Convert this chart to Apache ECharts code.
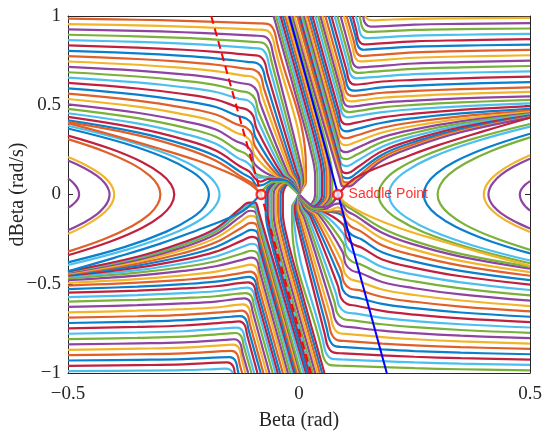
<!DOCTYPE html>
<html><head><meta charset="utf-8">
<script src="https://cdn.jsdelivr.net/npm/echarts@6/dist/echarts.min.js"></script>
<style>html,body{margin:0;padding:0;background:#fff}#c{width:550px;height:436px}</style>
</head><body><div id="c"></div>
<script>
const palette = ['#0a7fcb','#e0602a','#f0b52a','#8e44a0','#7ab13a','#4dbfef','#c0213f'];
const leftLoopColors = ['#8e44a0','#f0b52a','#8e44a0','#e0602a','#c0213f','#0a7fcb','#4dbfef'];
const rightLoopColors = ['#8e44a0','#f0b52a','#8e44a0','#7ab13a','#0a7fcb','#4dbfef','#7ab13a'];
const xTicks = [-0.5, 0, 0.5];
const yTicks = [-1, -0.5, 0, 0.5, 1];

// upper-left trajectories (from left edge, bending down into the central band)
const upperLeft = [
[-.5,.985,-.35,.979,-.25,.973,-.18,.967,-.088,.959,-.068,.956,-.055,.925,-.048,.855,.015,.15,.015,.07,.007,.03,.001,.004],
[-.5,.955,-.35,.948,-.25,.941,-.18,.934,-.092,.924,-.072,.921,-.059,.89,-.052,.82,.011,.147,.012,.071,.006,.031,.001,.004],
[-.5,.925,-.35,.917,-.25,.909,-.18,.901,-.096,.89,-.076,.886,-.063,.855,-.056,.785,.006,.143,.009,.071,.004,.032,.001,.004],
[-.5,.895,-.35,.886,-.25,.877,-.18,.868,-.1,.855,-.08,.851,-.067,.82,-.06,.75,.002,.14,.006,.072,.003,.034,.001,.004],
[-.5,.865,-.35,.855,-.25,.845,-.18,.835,-.104,.821,-.084,.817,-.071,.785,-.064,.715,-.002,.137,.004,.073,.002,.035,.001,.004],
[-.5,.835,-.35,.823,-.25,.811,-.18,.799,-.108,.782,-.088,.777,-.075,.745,-.068,.675,-.006,.133,.001,.074,.001,.036,.001,.004],
[-.5,.805,-.35,.791,-.25,.777,-.18,.763,-.112,.743,-.092,.737,-.079,.705,-.072,.635,-.011,.13,-.002,.074,-.001,.037,.001,.004],
[-.5,.775,-.35,.759,-.25,.743,-.18,.727,-.116,.705,-.096,.697,-.083,.665,-.076,.595,-.015,.127,-.005,.075,-.002,.038,.001,.004],
[-.5,.745,-.35,.727,-.25,.709,-.18,.691,-.12,.666,-.1,.658,-.087,.625,-.08,.555,-.019,.123,-.008,.076,-.003,.04,.001,.004],
[-.5,.715,-.35,.694,-.25,.673,-.18,.652,-.124,.623,-.104,.613,-.091,.58,-.084,.51,-.024,.12,-.011,.076,-.005,.041,.001,.004],
[-.5,.685,-.35,.661,-.25,.637,-.18,.613,-.128,.579,-.108,.569,-.095,.535,-.088,.465,-.028,.117,-.014,.077,-.006,.042,.001,.004],
[-.5,.655,-.35,.628,-.25,.601,-.18,.574,-.13,.536,-.11,.526,-.097,.49,-.09,.42,-.032,.113,-.016,.078,-.007,.043,.001,.004],
[-.5,.625,-.35,.594,-.25,.563,-.18,.532,-.132,.489,-.112,.475,-.099,.44,-.092,.37,-.036,.11,-.019,.079,-.008,.044,.001,.004],
[-.5,.595,-.35,.56,-.25,.525,-.18,.49,-.134,.441,-.114,.425,-.101,.39,-.094,.32,-.041,.107,-.022,.079,-.01,.046,.001,.004],
[-.5,.565,-.35,.526,-.25,.487,-.18,.448,-.135,.393,-.115,.376,-.102,.34,-.095,.27,-.045,.103,-.025,.08,-.011,.047,.001,.004],
[-.5,.535,-.35,.492,-.25,.449,-.18,.406,-.136,.346,-.116,.327,-.103,.29,-.096,.22,-.049,.1,-.028,.081,-.012,.048,.001,.004],
[-.5,.505,-.35,.458,-.25,.411,-.18,.364,-.136,.298,-.116,.277,-.103,.24,-.096,.17,-.054,.097,-.031,.081,-.014,.049,.001,.004],
[-.5,.48,-.35,.428,-.25,.376,-.18,.324,-.135,.251,-.115,.228,-.102,.19,-.095,.12,-.058,.093,-.034,.082,-.015,.05,.001,.004],
[-.5,.455,-.35,.398,-.25,.341,-.18,.284,-.132,.204,-.112,.179,-.099,.14,-.088,.095,-.062,.095,-.036,.083,-.016,.051,.001,.004],
[-.5,.435,-.35,.372,-.25,.309,-.18,.246,-.128,.158,-.108,.13,-.095,.09,-.084,.072,-.065,.088,-.039,.084,-.017,.053,.001,.004],
[-.5,.415,-.35,.348,-.25,.281,-.18,.214,-.123,.12,-.103,.09,-.09,.05,-.077,.055,-.06,.078,-.042,.084,-.019,.054,.001,.004],
[-.5,.405,-.35,.333,-.25,.261,-.18,.189,-.118,.088,-.098,.056,-.086,.018,-.075,.032,-.06,.06,-.045,.073,-.022,.053,.001,.004]
];

// lower-right trajectories (from right edge, bending up into the central band)
const lowerRight = [
[.5,-.985,.35,-.979,.25,-.973,.18,-.967,.088,-.959,.068,-.956,.055,-.925,.048,-.855,-.015,-.15,-.015,-.07,-.007,-.03,-.001,-.004],
[.5,-.955,.35,-.948,.25,-.941,.18,-.934,.092,-.924,.072,-.921,.059,-.89,.052,-.82,-.011,-.147,-.012,-.071,-.006,-.031,-.001,-.004],
[.5,-.925,.35,-.917,.25,-.909,.18,-.901,.096,-.89,.076,-.886,.063,-.855,.056,-.785,-.006,-.143,-.009,-.071,-.004,-.032,-.001,-.004],
[.5,-.895,.35,-.886,.25,-.877,.18,-.868,.1,-.855,.08,-.851,.067,-.82,.06,-.75,-.002,-.14,-.006,-.072,-.003,-.034,-.001,-.004],
[.5,-.865,.35,-.855,.25,-.845,.18,-.835,.104,-.821,.084,-.817,.071,-.785,.064,-.715,.002,-.137,-.004,-.073,-.002,-.035,-.001,-.004],
[.5,-.835,.35,-.823,.25,-.811,.18,-.799,.108,-.782,.088,-.777,.075,-.745,.068,-.675,.006,-.133,-.001,-.074,-.001,-.036,-.001,-.004],
[.5,-.805,.35,-.791,.25,-.777,.18,-.763,.112,-.743,.092,-.737,.079,-.705,.072,-.635,.011,-.13,.002,-.074,.001,-.037,-.001,-.004],
[.5,-.775,.35,-.759,.25,-.743,.18,-.727,.116,-.705,.096,-.697,.083,-.665,.076,-.595,.015,-.127,.005,-.075,.002,-.038,-.001,-.004],
[.5,-.745,.35,-.727,.25,-.709,.18,-.691,.12,-.666,.1,-.658,.087,-.625,.08,-.555,.019,-.123,.008,-.076,.003,-.04,-.001,-.004],
[.5,-.715,.35,-.694,.25,-.673,.18,-.652,.124,-.623,.104,-.613,.091,-.58,.084,-.51,.024,-.12,.011,-.076,.005,-.041,-.001,-.004],
[.5,-.685,.35,-.661,.25,-.637,.18,-.613,.128,-.579,.108,-.569,.095,-.535,.088,-.465,.028,-.117,.014,-.077,.006,-.042,-.001,-.004],
[.5,-.655,.35,-.628,.25,-.601,.18,-.574,.13,-.536,.11,-.526,.097,-.49,.09,-.42,.032,-.113,.016,-.078,.007,-.043,-.001,-.004],
[.5,-.625,.35,-.594,.25,-.563,.18,-.532,.132,-.489,.112,-.475,.099,-.44,.092,-.37,.036,-.11,.019,-.079,.008,-.044,-.001,-.004],
[.5,-.595,.35,-.56,.25,-.525,.18,-.49,.134,-.441,.114,-.425,.101,-.39,.094,-.32,.041,-.107,.022,-.079,.01,-.046,-.001,-.004],
[.5,-.565,.35,-.526,.25,-.487,.18,-.448,.135,-.393,.115,-.376,.102,-.34,.095,-.27,.045,-.103,.025,-.08,.011,-.047,-.001,-.004],
[.5,-.535,.35,-.492,.25,-.449,.18,-.406,.136,-.346,.116,-.327,.103,-.29,.096,-.22,.049,-.1,.028,-.081,.012,-.048,-.001,-.004],
[.5,-.505,.35,-.458,.25,-.411,.18,-.364,.136,-.298,.116,-.277,.103,-.24,.096,-.17,.054,-.097,.031,-.081,.014,-.049,-.001,-.004],
[.5,-.48,.35,-.428,.25,-.376,.18,-.324,.135,-.251,.115,-.228,.102,-.19,.095,-.12,.058,-.093,.034,-.082,.015,-.05,-.001,-.004],
[.5,-.455,.35,-.398,.25,-.341,.18,-.284,.132,-.204,.112,-.179,.099,-.14,.088,-.095,.062,-.095,.036,-.083,.016,-.051,-.001,-.004],
[.5,-.435,.35,-.372,.25,-.309,.18,-.246,.128,-.158,.108,-.13,.095,-.09,.084,-.072,.065,-.088,.039,-.084,.017,-.053,-.001,-.004],
[.5,-.415,.35,-.348,.25,-.281,.18,-.214,.123,-.12,.103,-.09,.09,-.05,.077,-.055,.06,-.078,.042,-.084,.019,-.054,-.001,-.004],
[.5,-.405,.35,-.333,.25,-.261,.18,-.189,.118,-.088,.098,-.056,.086,-.018,.075,-.032,.06,-.06,.045,-.073,.022,-.053,-.001,-.004]
];

// band entering from the top edge toward the origin
const topBand = [
[-.055,1,-.001,.5,.025,.25,.035,.1,.035,0,.028,-.05,.0175,-.063,.007,-.04,.002,-.004],
[-.05,1,.004,.5,.03,.25,.04,.1,.04,0,.032,-.05,.02,-.065,.008,-.042,.002,-.004],
[-.045,1,.009,.5,.035,.25,.045,.1,.045,0,.036,-.052,.0225,-.068,.009,-.044,.002,-.004],
[-.04,1,.014,.5,.04,.25,.05,.1,.05,0,.04,-.055,.025,-.07,.01,-.045,.002,-.004],
[-.035,1,.019,.5,.045,.25,.055,.1,.055,0,.044,-.057,.0275,-.073,.011,-.047,.002,-.004],
[-.03,1,.024,.5,.05,.25,.06,.1,.06,0,.048,-.06,.03,-.075,.012,-.048,.002,-.004],
[-.026,1,.028,.5,.054,.25,.064,.1,.064,0,.051,-.062,.032,-.077,.013,-.05,.002,-.004],
[-.022,1,.032,.5,.058,.25,.068,.1,.068,0,.054,-.064,.034,-.079,.014,-.051,.002,-.004],
[-.018,1,.036,.5,.062,.25,.072,.1,.072,0,.057,-.066,.036,-.081,.015,-.052,.002,-.004]
];

// band entering from the bottom edge toward the origin
const bottomBand = [
[.055,-1,.001,-.5,-.025,-.25,-.035,-.1,-.035,0,-.028,.05,-.0175,.063,-.007,.04,-.002,.004],
[.05,-1,-.004,-.5,-.03,-.25,-.04,-.1,-.04,0,-.032,.05,-.02,.065,-.008,.042,-.002,.004],
[.045,-1,-.009,-.5,-.035,-.25,-.045,-.1,-.045,0,-.036,.052,-.0225,.068,-.009,.044,-.002,.004],
[.04,-1,-.014,-.5,-.04,-.25,-.05,-.1,-.05,0,-.04,.055,-.025,.07,-.01,.045,-.002,.004],
[.035,-1,-.019,-.5,-.045,-.25,-.055,-.1,-.055,0,-.044,.057,-.0275,.073,-.011,.047,-.002,.004],
[.03,-1,-.024,-.5,-.05,-.25,-.06,-.1,-.06,0,-.048,.06,-.03,.075,-.012,.048,-.002,.004],
[.026,-1,-.028,-.5,-.054,-.25,-.064,-.1,-.064,0,-.051,.062,-.032,.077,-.013,.05,-.002,.004],
[.022,-1,-.032,-.5,-.058,-.25,-.068,-.1,-.068,0,-.054,.064,-.034,.079,-.014,.051,-.002,.004],
[.018,-1,-.036,-.5,-.062,-.25,-.072,-.1,-.072,0,-.057,.066,-.036,.081,-.015,.052,-.002,.004]
];

// upper-right trajectories (from right edge, turning up to the top edge)
const upperRight = [
[.5,.99,.35,.987,.25,.984,.18,.978,.16,.976,.15,.98,.143,1],
[.5,.96,.35,.956,.25,.952,.175,.942,.155,.941,.143,.96,.139,1],
[.5,.93,.35,.926,.25,.922,.17,.912,.15,.911,.138,.93,.132,.99,.131,1],
[.5,.9,.35,.895,.25,.89,.166,.878,.146,.876,.134,.895,.128,.955,.123,1],
[.5,.87,.35,.864,.25,.858,.162,.844,.142,.841,.13,.86,.124,.92,.116,1],
[.5,.84,.35,.834,.25,.828,.16,.814,.14,.811,.128,.83,.122,.89,.11,1],
[.5,.81,.35,.803,.25,.796,.157,.779,.137,.776,.125,.795,.119,.855,.103,1],
[.5,.78,.35,.773,.25,.766,.154,.749,.134,.746,.122,.765,.116,.825,.097,1],
[.5,.75,.35,.742,.25,.734,.15,.715,.13,.711,.118,.73,.112,.79,.09,1],
[.5,.72,.35,.712,.25,.704,.147,.685,.127,.681,.115,.7,.109,.76,.083,1],
[.5,.69,.35,.682,.25,.674,.144,.655,.124,.651,.112,.67,.106,.73,.077,1],
[.5,.66,.35,.651,.25,.642,.18,.633,.141,.62,.121,.616,.109,.635,.103,.695,.07,1],
[.5,.63,.35,.62,.25,.61,.18,.6,.138,.586,.118,.582,.106,.6,.1,.66,.064,1],
[.5,.6,.35,.59,.25,.58,.18,.57,.135,.556,.115,.552,.103,.57,.097,.63,.057,1],
[.5,.575,.35,.564,.25,.553,.18,.542,.132,.527,.112,.522,.1,.54,.094,.6,.051,1],
[.5,.55,.35,.538,.25,.526,.18,.514,.13,.497,.11,.492,.098,.51,.092,.57,.046,1],
[.5,.53,.35,.516,.25,.502,.18,.488,.128,.468,.108,.462,.096,.48,.09,.54,.041,1],
[.5,.51,.35,.494,.25,.478,.18,.462,.126,.44,.106,.432,.094,.45,.088,.51,.035,1],
[.5,.495,.35,.474,.25,.453,.18,.432,.124,.403,.104,.393,.092,.41,.086,.47,.029,1],
[.5,.48,.35,.454,.25,.428,.18,.402,.123,.366,.103,.354,.091,.37,.085,.43,.024,1],
[.5,.47,.35,.438,.25,.406,.18,.374,.122,.329,.102,.315,.09,.33,.084,.39,.019,1],
[.5,.462,.35,.424,.25,.385,.18,.347,.122,.293,.102,.276,.09,.29,.084,.35,.014,1],
[.5,.455,.35,.41,.25,.365,.18,.32,.122,.257,.102,.237,.09,.25,.084,.31,.01,1],
[.5,.45,.35,.398,.25,.346,.18,.294,.123,.221,.103,.198,.091,.21,.085,.27,.007,1],
[.5,.446,.35,.387,.25,.328,.18,.268,.124,.186,.104,.159,.092,.17,.086,.23,.004,1],
[.5,.442,.35,.376,.25,.309,.18,.243,.125,.15,.105,.12,.093,.13,.087,.19,.001,1],
[.5,.438,.35,.366,.25,.295,.18,.223,.126,.123,.106,.091,.094,.1,.088,.16,-.002,1],
[.5,.434,.35,.358,.25,.282,.18,.207,.127,.1,.107,.066,.095,.075,.089,.135,-.004,1],
[.5,.432,.35,.352,.25,.272,.18,.197,.128,.09,.108,.055,.096,.058,.089,.11,-.01,1],
[.5,.431,.35,.349,.25,.268,.18,.19,.128,.08,.108,.045,.095,.045,.088,.09,-.015,1]
];

// lower-left trajectories (from left edge, turning down to the bottom edge)
const lowerLeft = [
[-.5,-.99,-.35,-.987,-.25,-.984,-.18,-.978,-.16,-.976,-.15,-.98,-.143,-1],
[-.5,-.96,-.35,-.956,-.25,-.952,-.175,-.942,-.155,-.941,-.143,-.96,-.139,-1],
[-.5,-.93,-.35,-.926,-.25,-.922,-.17,-.912,-.15,-.911,-.138,-.93,-.132,-.99,-.131,-1],
[-.5,-.9,-.35,-.895,-.25,-.89,-.166,-.878,-.146,-.876,-.134,-.895,-.128,-.955,-.123,-1],
[-.5,-.87,-.35,-.864,-.25,-.858,-.162,-.844,-.142,-.841,-.13,-.86,-.124,-.92,-.116,-1],
[-.5,-.84,-.35,-.834,-.25,-.828,-.16,-.814,-.14,-.811,-.128,-.83,-.122,-.89,-.11,-1],
[-.5,-.81,-.35,-.803,-.25,-.796,-.157,-.779,-.137,-.776,-.125,-.795,-.119,-.855,-.103,-1],
[-.5,-.78,-.35,-.773,-.25,-.766,-.154,-.749,-.134,-.746,-.122,-.765,-.116,-.825,-.097,-1],
[-.5,-.75,-.35,-.742,-.25,-.734,-.15,-.715,-.13,-.711,-.118,-.73,-.112,-.79,-.09,-1],
[-.5,-.72,-.35,-.712,-.25,-.704,-.147,-.685,-.127,-.681,-.115,-.7,-.109,-.76,-.083,-1],
[-.5,-.69,-.35,-.682,-.25,-.674,-.144,-.655,-.124,-.651,-.112,-.67,-.106,-.73,-.077,-1],
[-.5,-.66,-.35,-.651,-.25,-.642,-.18,-.633,-.141,-.62,-.121,-.616,-.109,-.635,-.103,-.695,-.07,-1],
[-.5,-.63,-.35,-.62,-.25,-.61,-.18,-.6,-.138,-.586,-.118,-.582,-.106,-.6,-.1,-.66,-.064,-1],
[-.5,-.6,-.35,-.59,-.25,-.58,-.18,-.57,-.135,-.556,-.115,-.552,-.103,-.57,-.097,-.63,-.057,-1],
[-.5,-.575,-.35,-.564,-.25,-.553,-.18,-.542,-.132,-.527,-.112,-.522,-.1,-.54,-.094,-.6,-.051,-1],
[-.5,-.55,-.35,-.538,-.25,-.526,-.18,-.514,-.13,-.497,-.11,-.492,-.098,-.51,-.092,-.57,-.046,-1],
[-.5,-.53,-.35,-.516,-.25,-.502,-.18,-.488,-.128,-.468,-.108,-.462,-.096,-.48,-.09,-.54,-.041,-1],
[-.5,-.51,-.35,-.494,-.25,-.478,-.18,-.462,-.126,-.44,-.106,-.432,-.094,-.45,-.088,-.51,-.035,-1],
[-.5,-.495,-.35,-.474,-.25,-.453,-.18,-.432,-.124,-.403,-.104,-.393,-.092,-.41,-.086,-.47,-.029,-1],
[-.5,-.48,-.35,-.454,-.25,-.428,-.18,-.402,-.123,-.366,-.103,-.354,-.091,-.37,-.085,-.43,-.024,-1],
[-.5,-.47,-.35,-.438,-.25,-.406,-.18,-.374,-.122,-.329,-.102,-.315,-.09,-.33,-.084,-.39,-.019,-1],
[-.5,-.462,-.35,-.424,-.25,-.385,-.18,-.347,-.122,-.293,-.102,-.276,-.09,-.29,-.084,-.35,-.014,-1],
[-.5,-.455,-.35,-.41,-.25,-.365,-.18,-.32,-.122,-.257,-.102,-.237,-.09,-.25,-.084,-.31,-.01,-1],
[-.5,-.45,-.35,-.398,-.25,-.346,-.18,-.294,-.123,-.221,-.103,-.198,-.091,-.21,-.085,-.27,-.007,-1],
[-.5,-.446,-.35,-.387,-.25,-.328,-.18,-.268,-.124,-.186,-.104,-.159,-.092,-.17,-.086,-.23,-.004,-1],
[-.5,-.442,-.35,-.376,-.25,-.309,-.18,-.243,-.125,-.15,-.105,-.12,-.093,-.13,-.087,-.19,-.001,-1],
[-.5,-.438,-.35,-.366,-.25,-.295,-.18,-.223,-.126,-.123,-.106,-.091,-.094,-.1,-.088,-.16,.002,-1],
[-.5,-.434,-.35,-.358,-.25,-.282,-.18,-.207,-.127,-.1,-.107,-.066,-.095,-.075,-.089,-.135,.004,-1],
[-.5,-.432,-.35,-.352,-.25,-.272,-.18,-.197,-.128,-.09,-.108,-.055,-.096,-.058,-.089,-.11,.01,-1],
[-.5,-.431,-.35,-.349,-.25,-.268,-.18,-.19,-.128,-.08,-.108,-.045,-.095,-.045,-.088,-.09,.015,-1]
];

// closed-off loops on the left (opening left)
const leftLoops = [
[-.5,.09,-.4904,.07,-.4832,.049,-.4789,.031,-.4767,.016,-.476,0,-.4767,-.013,-.4789,-.026,-.4832,-.041,-.4904,-.058,-.5,-.075],
[-.5,.21,-.46,.163,-.43,.115,-.412,.073,-.403,.036,-.4,0,-.403,-.038,-.412,-.076,-.43,-.12,-.46,-.17,-.5,-.22],
[-.5,.19,-.464,.147,-.437,.104,-.421,.066,-.413,.033,-.41,0,-.413,-.035,-.421,-.069,-.437,-.11,-.464,-.155,-.5,-.2],
[-.5,.31,-.42,.24,-.36,.17,-.324,.107,-.306,.054,-.3,0,-.306,-.055,-.324,-.111,-.36,-.175,-.42,-.248,-.5,-.32],
[-.5,.33,-.408,.256,-.339,.181,-.298,.114,-.277,.057,-.27,0,-.277,-.059,-.298,-.118,-.339,-.186,-.408,-.263,-.5,-.34],
[-.5,.37,-.378,.287,-.287,.203,-.232,.128,-.204,.064,-.195,0,-.204,-.066,-.232,-.131,-.287,-.208,-.378,-.295,-.5,-.38],
[-.5,.385,-.369,.298,-.27,.211,-.211,.133,-.182,.067,-.172,0,-.182,-.068,-.211,-.137,-.27,-.216,-.369,-.306,-.5,-.395]
];

// closed-off loops on the right (opening right)
const rightLoops = [
[.5,.075,.4912,.058,.4846,.041,.4806,.026,.4787,.013,.478,0,.4787,-.016,.4806,-.031,.4846,-.049,.4912,-.07,.5,-.09],
[.5,.22,.46,.17,.43,.12,.412,.076,.403,.038,.4,0,.403,-.036,.412,-.073,.43,-.115,.46,-.163,.5,-.21],
[.5,.2,.464,.155,.437,.11,.421,.069,.413,.035,.41,0,.413,-.033,.421,-.066,.437,-.104,.464,-.147,.5,-.19],
[.5,.32,.42,.248,.36,.175,.324,.111,.306,.055,.3,0,.306,-.054,.324,-.107,.36,-.17,.42,-.24,.5,-.31],
[.5,.34,.408,.263,.339,.186,.298,.118,.277,.059,.27,0,.277,-.057,.298,-.114,.339,-.181,.408,-.256,.5,-.33],
[.5,.38,.378,.294,.287,.208,.232,.131,.204,.066,.195,0,.204,-.064,.232,-.128,.287,-.203,.378,-.287,.5,-.37],
[.5,.395,.369,.306,.27,.216,.211,.137,.182,.068,.172,0,.182,-.067,.211,-.133,.27,-.211,.369,-.298,.5,-.385]
];

// separatrices into the saddles and saddle-to-origin branches
const separatrices = [
[.5,.43,.4,.355,.3,.275,.22,.2,.16,.14,.12,.09,.1,.045,.086,.002],
[-.5,-.43,-.4,-.355,-.3,-.275,-.22,-.2,-.16,-.14,-.12,-.09,-.1,-.045,-.084,-.002],
[-.5,.4,-.4,.33,-.3,.255,-.22,.19,-.16,.13,-.12,.08,-.097,.04,-.084,.003],
[.5,-.4,.4,-.33,.3,-.255,.22,-.19,.16,-.13,.12,-.08,.097,-.04,.086,-.003],
[.084,0,.075,-.04,.055,-.07,.035,-.07,.015,-.035,.002,-.003],
[-.082,0,-.073,.04,-.053,.07,-.033,.07,-.015,.035,-.002,.003]
];

const redDashed = [[-0.19, 1], [0.026, -1]];
const blueLine = [[-0.021, 1], [0.19, -1]];
const saddles = [[-0.082, 0], [0.084, 0]];
const saddleLabel = 'Saddle Point';

function pairs(flat){ const p=[]; for(let i=0;i<flat.length;i+=2) p.push([flat[i],flat[i+1]]); return p; }

const series = [];
function addFamily(list, colorOf){
  list.forEach((f,i)=>{
    series.push({type:'line', data:pairs(f), smooth:0.4, showSymbol:false, symbol:'none',
      clip:true, silent:true, animation:false, z:2,
      lineStyle:{width:2.2, color:colorOf(i)}});
  });
}
const cyc = off => i => palette[(i+off)%palette.length];
addFamily(leftLoops, i => leftLoopColors[i]);
addFamily(rightLoops, i => rightLoopColors[i]);
addFamily(upperLeft, cyc(1));
addFamily(lowerRight, cyc(4));
addFamily(upperRight, cyc(2));
addFamily(lowerLeft, cyc(5));
addFamily(topBand, cyc(3));
addFamily(bottomBand, cyc(6));
addFamily(separatrices, cyc(6));

series.push({type:'line', data:redDashed, showSymbol:false, symbol:'none', silent:true, animation:false, z:5,
  lineStyle:{color:'#ff0000', width:2, type:[8,5]}});
series.push({type:'line', data:blueLine, showSymbol:false, symbol:'none', silent:true, animation:false, z:5,
  lineStyle:{color:'#0000ff', width:2}});
series.push({type:'scatter', silent:true, animation:false, z:6, symbol:'circle', symbolSize:9,
  itemStyle:{color:'#ffffff', borderColor:'#ff0000', borderWidth:2.5},
  data:[ {value:saddles[0]},
         {value:saddles[1], label:{show:true, formatter:saddleLabel, position:'right', distance:5,
            color:'#ff0000', fontSize:14, fontFamily:'Liberation Sans'}} ]});

const fmt = v => (v<0 ? '\u2212'+Math.abs(v) : String(v));
const axisFont = {fontFamily:'Liberation Serif', fontSize:19, color:'#262626'};
const chart = echarts.init(document.getElementById('c'), null, {renderer:'canvas'});
chart.setOption({
  animation:false,
  backgroundColor:'#ffffff',
  grid:{left:68, right:20, top:16, bottom:63, containLabel:false, outerBoundsMode:'none'},
  xAxis:[
    {type:'value', min:xTicks[0], max:xTicks[xTicks.length-1], interval:0.5,
     axisLine:{show:true, onZero:false, lineStyle:{color:'#262626', width:1}},
     axisTick:{show:true, inside:true, length:5, lineStyle:{color:'#262626'}},
     splitLine:{show:false},
     axisLabel:Object.assign({margin:12, formatter:fmt}, axisFont),
     name:'Beta (rad)', nameLocation:'middle', nameGap:38, nameMoveOverlap:false,
     nameTextStyle:{fontFamily:'Liberation Serif', fontSize:20, color:'#262626'}},
    {type:'value', position:'top', min:xTicks[0], max:xTicks[xTicks.length-1], interval:0.5,
     axisLine:{show:true, onZero:false, lineStyle:{color:'#262626', width:1}},
     axisTick:{show:true, inside:true, length:5, lineStyle:{color:'#262626'}},
     axisLabel:{show:false}, splitLine:{show:false}}
  ],
  yAxis:[
    {type:'value', min:yTicks[0], max:yTicks[yTicks.length-1], interval:0.5,
     axisLine:{show:true, onZero:false, lineStyle:{color:'#262626', width:1}},
     axisTick:{show:true, inside:true, length:5, lineStyle:{color:'#262626'}},
     splitLine:{show:false},
     axisLabel:Object.assign({margin:7, formatter:fmt}, axisFont),
     name:'dBeta (rad/s)', nameLocation:'middle', nameGap:40, nameRotate:90, nameMoveOverlap:false,
     nameTextStyle:{fontFamily:'Liberation Serif', fontSize:20, color:'#262626'}},
    {type:'value', position:'right', min:yTicks[0], max:yTicks[yTicks.length-1], interval:0.5,
     axisLine:{show:true, onZero:false, lineStyle:{color:'#262626', width:1}},
     axisTick:{show:true, inside:true, length:5, lineStyle:{color:'#262626'}},
     axisLabel:{show:false}, splitLine:{show:false}}
  ],
  series:series
});
</script></body></html>
